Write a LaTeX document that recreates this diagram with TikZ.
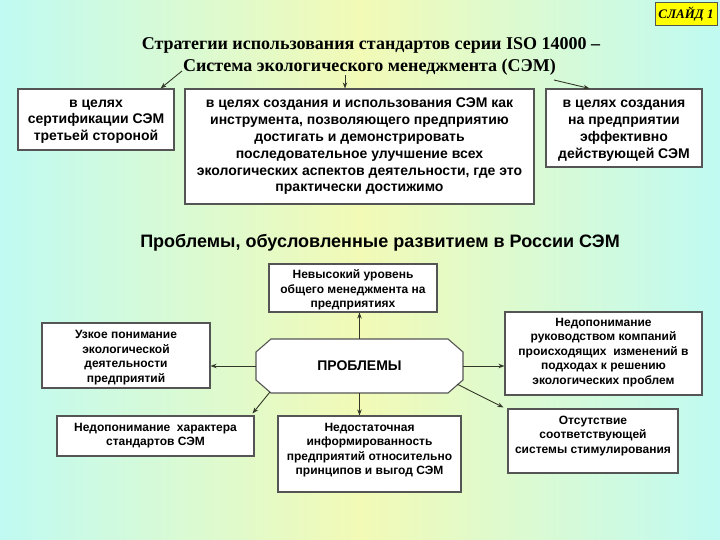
\documentclass[tikz,border=0pt]{standalone}
\usepackage{fontspec}
\setmainfont{Liberation Serif}
\setsansfont{Liberation Sans}
\usetikzlibrary{arrows.meta,calc}
\definecolor{bgc}{RGB}{192,250,242}
\definecolor{bgy}{RGB}{242,250,182}
\definecolor{edgec}{RGB}{85,85,85}
\definecolor{lnk}{RGB}{50,55,40}
\definecolor{slidey}{RGB}{255,255,0}
\begin{document}
\begin{tikzpicture}[x=1pt,y=-1pt,
  box/.style={draw=edgec, line width=1.1pt, fill=white, inner sep=0pt},
  ttext/.style={align=center, font=\sffamily\bfseries\fontsize{14}{16.8}\selectfont, inner sep=0pt},
  ptext/.style={align=center, font=\sffamily\bfseries\fontsize{12}{14.5}\selectfont, inner sep=0pt},
  arr/.style={draw=lnk, line width=0.9pt, -{Stealth[length=6pt,width=4.5pt]}}]
\shade[left color=bgc, right color=bgc, middle color=bgy] (0,0) rectangle (720,540);
\useasboundingbox (0,0) rectangle (720,540);

% slide label
\node[draw=edgec, fill=slidey, line width=0.8pt, minimum width=62pt, minimum height=23pt,
      font=\bfseries\itshape\fontsize{13}{15}\selectfont, inner sep=0pt] (slide) at (686,14) {СЛАЙД 1};

% title
\node[font=\bfseries\fontsize{18}{20}\selectfont, inner sep=0pt] (t1) at (371,45)
  {Стратегии использования стандартов серии ISO 14000 –};
\node[font=\bfseries\fontsize{18}{20}\selectfont, inner sep=0pt] (t2) at (369.5,67)
  {Система экологического менеджмента (СЭМ)};

% top boxes
\node[box, minimum width=156pt, minimum height=61pt] (sa) at (96,119.5) {};
\node[ttext] (sat) at (96,121.5) {в целях\\сертификации СЭМ\\третьей стороной};
\node[box, ttext, minimum width=349pt, minimum height=115pt] (sb) at (359.5,146.5)
  {в целях создания и использования СЭМ как\\инструмента, позволяющего предприятию\\достигать и демонстрировать\\последовательное улучшение всех\\экологических аспектов деятельности, где это\\практически достижимо};
\node[box, minimum width=156pt, minimum height=78pt] (sc) at (624,128) {};
\node[ttext] (sct) at (624,130.5) {в целях создания\\на предприятии\\эффективно\\действующей СЭМ};

\coordinate (al) at (182,71);
\coordinate (am) at (345,75);
\coordinate (ar) at (554,80);
\draw[arr] (al) -- ($(sa.north east)+(-14,0)$);
\draw[arr] (am) -- (am |- sb.north);
\draw[arr] (ar) -- ($(sc.north west)+(44,0)$);

% subtitle
\node[font=\sffamily\bfseries\fontsize{18}{20}\selectfont, inner sep=0pt] (sub) at (380,243)
  {Проблемы, обусловленные развитием в России СЭМ};

% problem boxes
\node[box, minimum width=168pt, minimum height=48pt] (ptop) at (353,288) {};
\node[ptext] (ptopt) at (353,290) {Невысокий уровень\\общего менеджмента на\\предприятиях};
\node[box, minimum width=168pt, minimum height=65pt] (pleft) at (126,355.5) {};
\node[ptext] (pleftt) at (126,357.5) {Узкое понимание\\экологической\\деятельности\\предприятий};
\node[box, minimum width=197pt, minimum height=83pt] (pright) at (603.5,353.5) {};
\node[ptext] (prightt) at (603.5,352.5) {Недопонимание\\руководством компаний\\происходящих \ изменений в\\подходах к решению\\экологических проблем};
\node[box, minimum width=197pt, minimum height=40pt] (pbl) at (155.5,436) {};
\node[ptext] (pblt) at (155.5,435.5) {Недопонимание \ характера\\стандартов СЭМ};
\node[box, minimum width=183pt, minimum height=76pt] (pbc) at (369.5,454) {};
\node[ptext] (pbct) at (369.5,450) {Недостаточная\\информированность\\предприятий относительно\\принципов и выгод СЭМ};
\node[box, minimum width=170pt, minimum height=64pt] (pbr) at (593,441) {};
\node[ptext] (pbrt) at (593,436) {Отсутствие\\соответствующей\\системы стимулирования};

% central octagon
\draw[box] (271,339) -- (448,339) -- (463,352) -- (463,380) -- (448,393) -- (271,393) -- (256,380) -- (256,352) -- cycle;
\node[inner sep=0pt, minimum width=207pt, minimum height=54pt,
      font=\sffamily\bfseries\fontsize{14}{16}\selectfont] (prob) at (359.5,366) {ПРОБЛЕМЫ};

\draw[arr] (prob.north) -- (prob.north |- ptop.south);
\draw[arr] (prob.west) -- (prob.west -| pleft.east);
\draw[arr] (prob.east) -- (prob.east -| pright.west);
\draw[arr] (prob.south) -- (prob.south |- pbc.north);
\draw[arr] ($(prob.south west)+(14,-1)$) -- ($(pbl.north east)+(-2,-2)$);
\draw[arr] ($(prob.south east)+(-6,-9)$) -- ($(pbr.north west)+(-4,-1)$);
\end{tikzpicture}
\end{document}
